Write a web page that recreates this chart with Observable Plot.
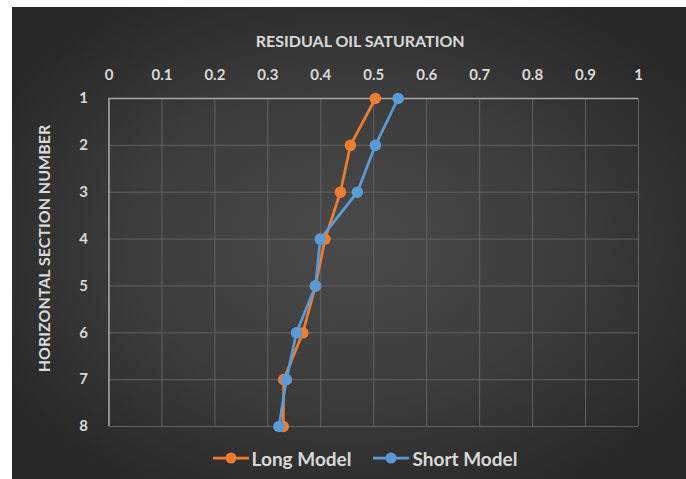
<!DOCTYPE html>
<html>
<head>
<meta charset="utf-8">
<script src="https://cdn.jsdelivr.net/npm/d3@7"></script>
<script src="https://cdn.jsdelivr.net/npm/@observablehq/plot@0.6"></script>
<style>
  html, body { margin: 0; padding: 0; background: #ffffff; }
  #chart {
    position: absolute; left: 12px; top: 7px; width: 674px; height: 472px;
    background: radial-gradient(ellipse 60% 60% at 50% 50%, #4a4a4a 0%, #3c3c3c 55%, #282828 100%);
    font-family: Lato, "Open Sans", sans-serif;
    overflow: hidden;
  }
  #legend {
    position: absolute; left: 16px; width: 674px; top: 436px; height: 30px;
    display: flex; justify-content: center; align-items: center; gap: 22px;
    color: #d9d9d9; font-weight: bold; font-size: 19px; font-family: Lato, sans-serif;
  }
  #legend .item { display: flex; align-items: center; gap: 3px; }
</style>
</head>
<body>
<div id="chart"></div>
<script>
const sections = [1, 2, 3, 4, 5, 6, 7, 8];
const longModel = [0.503, 0.456, 0.437, 0.408, 0.390, 0.366, 0.330, 0.329];
const shortModel = [0.546, 0.503, 0.469, 0.399, 0.390, 0.354, 0.335, 0.321];
const seriesNames = ["Long Model", "Short Model"];
const seriesColors = ["#ED7D31", "#5B9BD5"];
const xTicks = [0, 0.1, 0.2, 0.3, 0.4, 0.5, 0.6, 0.7, 0.8, 0.9, 1];
const xTitle = "RESIDUAL OIL SATURATION";
const yTitle = "HORIZONTAL SECTION NUMBER";

const rows = [];
[longModel, shortModel].forEach((vals, i) => {
  vals.forEach((v, j) => rows.push({series: seriesNames[i], section: sections[j], value: v}));
});

const textColor = "#d9d9d9";
const plot = Plot.plot({
  width: 674,
  height: 430,
  marginLeft: 96.5,
  marginRight: 48,
  marginTop: 91,
  marginBottom: 11,
  style: {background: "transparent", fontFamily: "Lato, sans-serif", overflow: "visible"},
  x: {domain: [0, 1]},
  y: {domain: [1, 8], reverse: true},
  color: {domain: seriesNames, range: seriesColors},
  marks: [
    Plot.gridX(xTicks, {stroke: "#626262", strokeOpacity: 1, strokeWidth: 1}),
    Plot.gridY(sections, {stroke: "#626262", strokeOpacity: 1, strokeWidth: 1}),
    Plot.ruleY([1], {stroke: "#a6a6a6", strokeWidth: 1.5}),
    Plot.ruleX([0], {stroke: "#a6a6a6", strokeWidth: 1.5}),
    Plot.axisX(xTicks, {anchor: "top", tickSize: 0, tickPadding: 19, tickFormat: d => String(d),
      fill: textColor, fontSize: 15, fontWeight: "bold", label: null}),
    Plot.axisY(sections, {anchor: "left", tickSize: 0, tickPadding: 21, tickFormat: d => String(d),
      fill: textColor, fontSize: 15, fontWeight: "bold", label: null}),
    Plot.text([xTitle], {frameAnchor: "top", dx: -13.5, dy: -63, text: d => d, fill: textColor, fontSize: 16, fontWeight: "bold"}),
    Plot.text([yTitle], {frameAnchor: "left", dx: -64, dy: -14, rotate: -90, textAnchor: "middle", text: d => d, fill: textColor, fontSize: 16, fontWeight: "bold"}),
    Plot.line(rows, {x: "value", y: "section", z: "series", stroke: "series", strokeWidth: 2.75}),
    Plot.dot(rows, {x: "value", y: "section", fill: "series", r: 5.8})
  ]
});
document.getElementById("chart").appendChild(plot);

const legend = document.createElement("div");
legend.id = "legend";
seriesNames.forEach((name, i) => {
  const item = document.createElement("div");
  item.className = "item";
  item.innerHTML = `<svg width="36" height="14"><line x1="0" y1="7" x2="36" y2="7" stroke="${seriesColors[i]}" stroke-width="2.75"/><circle cx="18" cy="7" r="5.5" fill="${seriesColors[i]}"/></svg><span>${name}</span>`;
  legend.appendChild(item);
});
document.getElementById("chart").appendChild(legend);
</script>
</body>
</html>
